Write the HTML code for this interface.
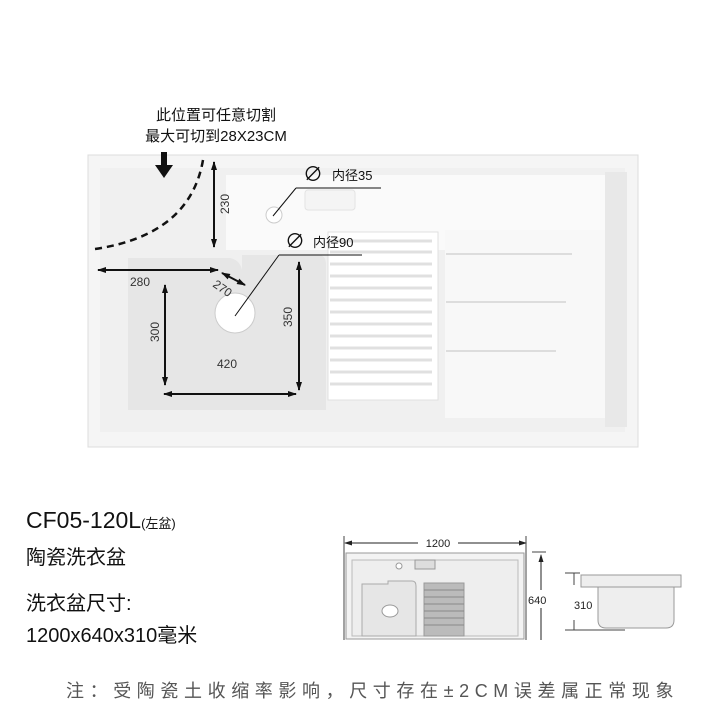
<!DOCTYPE html>
<html><head><meta charset="utf-8"><style>
html,body{margin:0;padding:0;background:#fff}
svg{display:block}
text{font-family:"Liberation Sans","Noto Sans CJK SC",sans-serif}
</style></head><body>
<svg width="720" height="720" viewBox="0 0 720 720" xmlns="http://www.w3.org/2000/svg">
<defs>
<marker id="a" markerUnits="userSpaceOnUse" markerWidth="9" markerHeight="8" refX="8" refY="4" orient="auto-start-reverse"><path d="M0,1 L9,4 L0,7z" fill="#111"/></marker>
<marker id="b" markerUnits="userSpaceOnUse" markerWidth="8" markerHeight="6" refX="7" refY="3" orient="auto-start-reverse"><path d="M0,0.5 L8,3 L0,5.5z" fill="#222"/></marker>
</defs>
<!-- main sink -->
<rect x="88" y="155" width="550" height="292" fill="#f5f5f5" stroke="#ddd"/>
<path d="M100,168 L625,168 L625,432 L100,432z" fill="#f0f0f0"/>
<path d="M128,258 L230,258 Q240,260 242,270 L242,255 L320,255 Q326,256 326,265 L326,410 L128,410z" fill="#e6e6e6"/>
<path d="M226,175 L610,175 L610,250 L226,250z" fill="#fafafa"/>
<path d="M445,230 L606,230 L606,418 L445,418z" fill="#f8f8f8"/>
<rect x="605" y="172" width="22" height="255" fill="#e8e8e8"/>
<line x1="446" y1="254" x2="572" y2="254" stroke="#ddd" stroke-width="2"/>
<line x1="446" y1="302" x2="566" y2="302" stroke="#ddd" stroke-width="2"/>
<line x1="446" y1="351" x2="556" y2="351" stroke="#ddd" stroke-width="2"/>
<rect x="328" y="232" width="110" height="168" fill="#fff" stroke="#e0e0e0"/>
<g stroke="#e0e0e0" stroke-width="3">
<line x1="330" y1="241" x2="432" y2="241"/><line x1="330" y1="252" x2="432" y2="252"/><line x1="330" y1="264" x2="432" y2="264"/><line x1="330" y1="276" x2="432" y2="276"/><line x1="330" y1="288" x2="432" y2="288"/><line x1="330" y1="300" x2="432" y2="300"/><line x1="330" y1="312" x2="432" y2="312"/><line x1="330" y1="324" x2="432" y2="324"/><line x1="330" y1="336" x2="432" y2="336"/><line x1="330" y1="348" x2="432" y2="348"/><line x1="330" y1="360" x2="432" y2="360"/><line x1="330" y1="372" x2="432" y2="372"/><line x1="330" y1="384" x2="432" y2="384"/>
</g>
<rect x="305" y="190" width="50" height="20" rx="3" fill="#f4f4f4" stroke="#e3e3e3"/>
<circle cx="274" cy="215" r="8" fill="#fff" stroke="#ccc"/>
<circle cx="235" cy="313" r="20" fill="#fff" stroke="#ccc"/>
<!-- dashed arc -->
<path d="M203,160 Q190,235 95,249" fill="none" stroke="#111" stroke-width="2.5" stroke-dasharray="7,5"/>
<!-- arrow down -->
<rect x="161" y="152" width="6" height="14" fill="#111"/><path d="M155,165 L173,165 L164,178z" fill="#111"/>
<!-- dims -->
<line x1="214" y1="162" x2="214" y2="247" stroke="#111" stroke-width="2" marker-start="url(#a)" marker-end="url(#a)"/>
<text font-size="12" transform="translate(229,214) rotate(-90)" fill="#333">230</text>
<line x1="98" y1="270" x2="218" y2="270" stroke="#111" stroke-width="2" marker-start="url(#a)" marker-end="url(#a)"/>
<text x="130" y="286" font-size="12" fill="#333">280</text>
<line x1="222" y1="273" x2="245" y2="285" stroke="#111" stroke-width="2" marker-start="url(#a)" marker-end="url(#a)"/>
<text font-size="12" fill="#333" transform="translate(212,286) rotate(35)">270</text>
<line x1="165" y1="285" x2="165" y2="385" stroke="#111" stroke-width="2" marker-start="url(#a)" marker-end="url(#a)"/>
<text font-size="12" fill="#333" transform="translate(159,342) rotate(-90)">300</text>
<line x1="299" y1="262" x2="299" y2="390" stroke="#111" stroke-width="2" marker-start="url(#a)" marker-end="url(#a)"/>
<text font-size="12" fill="#333" transform="translate(292,327) rotate(-90)">350</text>
<line x1="164" y1="394" x2="296" y2="394" stroke="#111" stroke-width="2" marker-start="url(#a)" marker-end="url(#a)"/>
<text x="217" y="368" font-size="12" fill="#333">420</text>
<!-- labels -->
<text x="303" y="181" font-size="20" fill="#111">∅</text>
<text x="332" y="180" font-size="13" fill="#111">内径35</text>
<line x1="296" y1="188" x2="381" y2="188" stroke="#111"/><line x1="296" y1="188" x2="273" y2="216" stroke="#111"/>
<text x="285" y="248" font-size="20" fill="#111">∅</text>
<text x="313" y="247" font-size="13" fill="#111">内径90</text>
<line x1="279" y1="255" x2="362" y2="255" stroke="#111"/><line x1="279" y1="255" x2="235" y2="316" stroke="#111"/>
<text x="216" y="120" font-size="15" fill="#111" text-anchor="middle">此位置可任意切割</text>
<text x="216" y="141" font-size="15" fill="#111" text-anchor="middle">最大可切到28X23CM</text>
<!-- bottom text -->
<text x="26" y="528" font-size="23" fill="#111">CF05-120L<tspan font-size="13">(左盆)</tspan></text>
<text x="26" y="564" font-size="20" fill="#111">陶瓷洗衣盆</text>
<text x="26" y="610" font-size="20" fill="#111">洗衣盆尺寸:</text>
<text x="26" y="642" font-size="20" fill="#111">1200x640x310毫米</text>
<text x="66" y="697" font-size="18" fill="#555" letter-spacing="5.6">注：受陶瓷土收缩率影响，尺寸存在±2CM误差属正常现象</text>
<!-- small diagram -->
<line x1="345" y1="543" x2="526" y2="543" stroke="#222" marker-start="url(#b)" marker-end="url(#b)"/>
<rect x="418" y="535" width="40" height="14" fill="#fff"/>
<text x="438" y="547" font-size="11" fill="#222" text-anchor="middle">1200</text>
<line x1="344" y1="536" x2="344" y2="640" stroke="#444"/><line x1="526" y1="536" x2="526" y2="640" stroke="#444"/>
<rect x="346" y="553" width="178" height="86" fill="#f3f3f3" stroke="#999"/>
<rect x="352" y="560" width="166" height="76" fill="#eee" stroke="#bbb"/>
<path d="M362,584 L388,584 L388,581 L412,581 Q416,581 416,586 L416,636 L362,636z" fill="#e6e6e6" stroke="#aaa"/>
<ellipse cx="390" cy="611" rx="8" ry="6" fill="#fff" stroke="#999"/>
<circle cx="399" cy="566" r="3" fill="#fff" stroke="#999"/>
<rect x="415" y="560" width="20" height="9" fill="#ddd" stroke="#999"/>
<rect x="424" y="583" width="40" height="53" fill="#bbb" stroke="#999"/>
<g stroke="#888"><line x1="424" y1="590" x2="464" y2="590"/><line x1="424" y1="597" x2="464" y2="597"/><line x1="424" y1="604" x2="464" y2="604"/><line x1="424" y1="611" x2="464" y2="611"/><line x1="424" y1="618" x2="464" y2="618"/><line x1="424" y1="625" x2="464" y2="625"/></g>
<line x1="541" y1="555" x2="541" y2="640" stroke="#222" marker-start="url(#b)"/>
<line x1="532" y1="552" x2="546" y2="552" stroke="#444"/>
<rect x="528" y="590" width="26" height="18" fill="#fff"/>
<text x="528" y="604" font-size="11" fill="#222">640</text>
<text x="574" y="609" font-size="11" fill="#222">310</text>
<line x1="565" y1="573" x2="580" y2="573" stroke="#444"/><line x1="574" y1="573" x2="574" y2="585" stroke="#444"/>
<line x1="565" y1="630" x2="625" y2="630" stroke="#444"/><line x1="574" y1="620" x2="574" y2="630" stroke="#444"/>
<rect x="581" y="575" width="100" height="12" fill="#eee" stroke="#999"/>
<path d="M598,587 L674,587 L674,620 Q674,628 666,628 L606,628 Q598,628 598,620z" fill="#eee" stroke="#999"/>
</svg>
</body></html>
